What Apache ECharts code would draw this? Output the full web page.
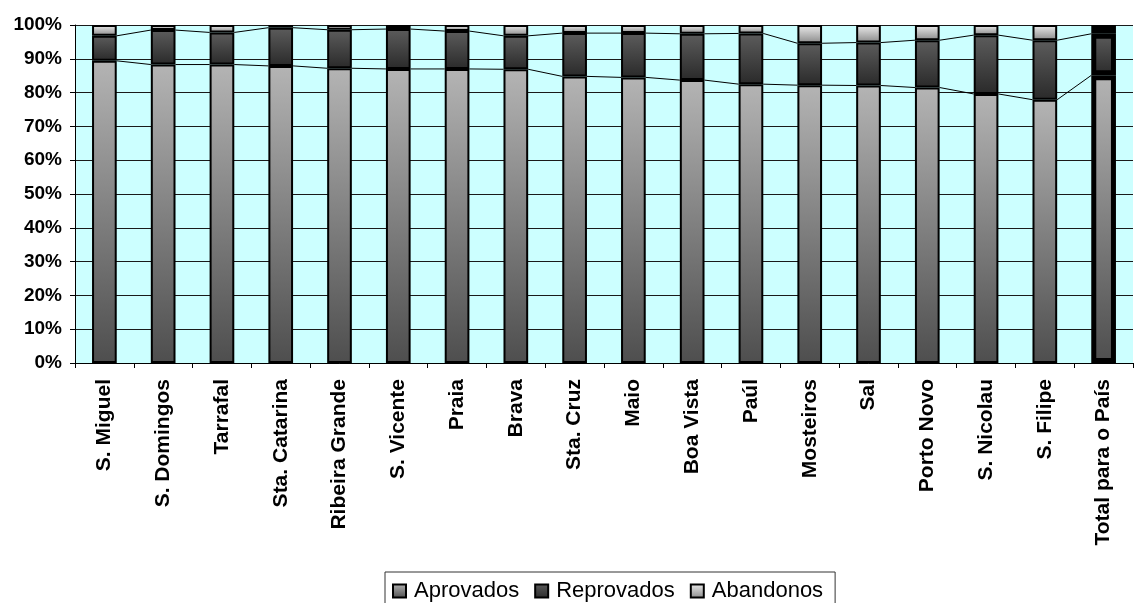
<!DOCTYPE html>
<html>
<head>
<meta charset="utf-8">
<script src="https://cdn.jsdelivr.net/npm/echarts@6/dist/echarts.min.js"></script>
<style>
  html, body { margin: 0; padding: 0; background: #fff; }
  #chart { width: 1134px; height: 603px; }
</style>
</head>
<body>
<div id="chart"></div>
<script>
// Concelhos, ordered by pass rate, with the national total last
const categories = ['S. Miguel', 'S. Domingos', 'Tarrafal', 'Sta. Catarina', 'Ribeira Grande',
  'S. Vicente', 'Praia', 'Brava', 'Sta. Cruz', 'Maio', 'Boa Vista', 'Paúl', 'Mosteiros',
  'Sal', 'Porto Novo', 'S. Nicolau', 'S. Filipe', 'Total para o País'];

// Shares in percent
const aprovados   = [89.4, 88.3, 88.3, 87.9, 87.2, 87.0, 87.0, 86.9, 84.8, 84.5, 83.7, 82.5, 82.2, 82.1, 81.5, 79.6, 77.9, 85.1];
const reprovados  = [7.4, 10.2, 9.5, 11.3, 11.4, 11.8, 11.2, 9.9, 12.8, 13.1, 13.7, 15.0, 12.4, 12.7, 14.0, 17.4, 17.6, 12.3];
const abandonos   = [3.2, 1.5, 2.2, 0.8, 1.4, 1.2, 1.8, 3.2, 2.4, 2.4, 2.6, 2.5, 5.4, 5.2, 4.5, 3.0, 4.5, 2.6];

const yTicks = [0, 10, 20, 30, 40, 50, 60, 70, 80, 90, 100];

const BAR_RATIO = 0.42;
const lastIdx = categories.length - 1;

function grad(top, bottom) {
  return new echarts.graphic.LinearGradient(0, 0, 0, 1, [
    { offset: 0, color: top },
    { offset: 1, color: bottom }
  ]);
}

// The national total gets a heavier outline
function withTotalBorder(arr) {
  return arr.map((v, i) => i === lastIdx ? { value: v, itemStyle: { borderWidth: 5 } } : v);
}

// Cumulative tops of the lower two segments, joined bar to bar by series lines
const cumA = aprovados.slice();
const cumR = aprovados.map((v, i) => v + reprovados[i]);
function seriesLineData(cum) {
  const out = [];
  for (let i = 0; i < cum.length - 1; i++) out.push([i, cum[i], cum[i + 1]]);
  return out;
}

function renderSeriesLine(params, api) {
  const i = api.value(0);
  const p1 = api.coord([i, api.value(1)]);
  const p2 = api.coord([i + 1, api.value(2)]);
  const hw = api.size([1, 0])[0] * BAR_RATIO / 2;
  return {
    type: 'line',
    shape: { x1: p1[0] + hw, y1: p1[1], x2: p2[0] - hw, y2: p2[1] },
    style: { stroke: '#000', lineWidth: 1 }
  };
}

const barCommon = {
  type: 'bar',
  stack: 'total',
  barWidth: (BAR_RATIO * 100) + '%',
  z: 3
};

const chart = echarts.init(document.getElementById('chart'), null, { renderer: 'canvas' });
chart.setOption({
  animation: false,
  backgroundColor: '#fff',
  grid: {
    left: 75, right: 1, top: 25, bottom: 240,
    show: true, backgroundColor: '#ccffff', borderWidth: 0
  },
  legend: {
    left: 385, top: 572,
    orient: 'horizontal',
    itemWidth: 13, itemHeight: 13, itemGap: 15,
    padding: [8, 12, 8, 7],
    borderColor: '#333', borderWidth: 1,
    icon: 'rect',
    textStyle: { fontFamily: 'Liberation Sans, Arial, sans-serif', fontSize: 22, color: '#000', padding: [0, 0, 0, 3] },
    data: ['Aprovados', 'Reprovados', 'Abandonos']
  },
  xAxis: {
    type: 'category',
    data: categories,
    boundaryGap: true,
    axisLine: { lineStyle: { color: '#000', width: 1 } },
    axisTick: { show: true, interval: 0, length: 5, lineStyle: { color: '#000' } },
    axisLabel: {
      interval: 0, rotate: 90, margin: 16,
      fontFamily: 'Liberation Sans, Arial, sans-serif',
      fontWeight: 'bold', fontSize: 21, color: '#000'
    },
    splitLine: { show: false }
  },
  yAxis: {
    type: 'value',
    min: yTicks[0], max: yTicks[yTicks.length - 1], interval: yTicks[1] - yTicks[0],
    axisLine: { show: true, lineStyle: { color: '#000', width: 1 } },
    axisTick: { show: true, length: 5, lineStyle: { color: '#000' } },
    axisLabel: {
      formatter: '{value}%', margin: 13,
      fontFamily: 'Liberation Sans, Arial, sans-serif',
      fontWeight: 'bold', fontSize: 19, color: '#000'
    },
    splitLine: { show: true, lineStyle: { color: '#1a1a1a', width: 1 } }
  },
  series: [
    Object.assign({}, barCommon, {
      name: 'Aprovados',
      data: withTotalBorder(aprovados),
      itemStyle: { color: grad('#b4b4b4', '#4e4e4e'), borderColor: '#000', borderWidth: 2 }
    }),
    Object.assign({}, barCommon, {
      name: 'Reprovados',
      data: withTotalBorder(reprovados),
      itemStyle: { color: grad('#5c5c5c', '#2a2a2a'), borderColor: '#000', borderWidth: 2 }
    }),
    Object.assign({}, barCommon, {
      name: 'Abandonos',
      data: withTotalBorder(abandonos),
      itemStyle: { color: grad('#ececec', '#8a8a8a'), borderColor: '#000', borderWidth: 2 }
    }),
    {
      type: 'custom',
      name: 'linhaAprovados',
      renderItem: renderSeriesLine,
      data: seriesLineData(cumA),
      encode: { x: 0, y: 1 },
      z: 2, silent: true
    },
    {
      type: 'custom',
      name: 'linhaReprovados',
      renderItem: renderSeriesLine,
      data: seriesLineData(cumR),
      encode: { x: 0, y: 1 },
      z: 2, silent: true
    }
  ]
});
</script>
</body>
</html>
